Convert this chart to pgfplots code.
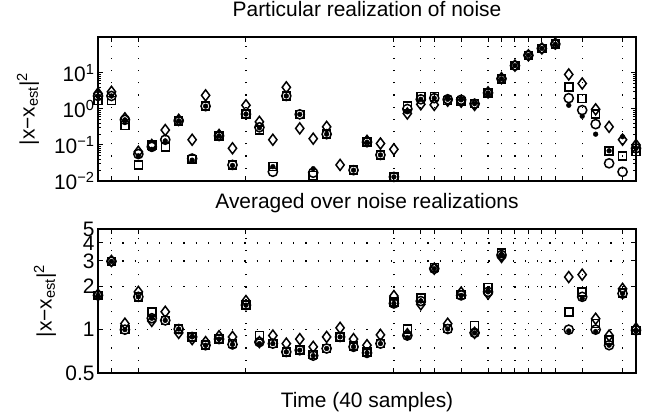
\documentclass[border=0pt]{standalone}
\usepackage{pgfplots}
\pgfplotsset{compat=1.18}
\usepackage{pgfplotstable}
\usepackage{fontspec}
\setmainfont{Liberation Sans}

% particular realization of noise (nan = off the scale)
\pgfplotstableread{
x  D     S     C     P
0  2.7   1.7   2.3   2.3
1  3.0   1.7   2.3   2.3
2  0.55  0.35  0.5   0.5
3  0.065 0.028 0.056 0.05
4  0.1   0.1   0.089 0.076
5  0.26  0.089 0.14  0.13
6  0.5   0.47  0.47  0.47
7  0.14  0.04  0.042 0.038
8  2.4   1.2   1.2   1.2
9  0.19  0.18  0.18  0.18
10 0.081 0.028 0.028 0.027
11 1.27  0.72  0.72  0.72
12 0.44  0.26  0.31  0.3
13 0.14  0.025 0.018 0.025
14 4.0   2.3   2.3   2.3
15 0.29  0.71  0.71  0.71
16 0.15  0.014 0.017 0.022
17 0.32  0.2   0.2   0.2
18 0.028 nan   nan   nan
19 nan   0.02  0.02  0.02
20 0.13  0.12  0.12  0.12
21 0.11  0.053 0.053 0.053
22 0.076 0.013 0.013 0.013
23 0.75  1.2   1.0   0.85
24 1.35  2.2   1.86  1.86
25 1.3   2.2   2.0   2.0
26 1.7   1.7   1.86  1.86
27 1.6   1.6   1.8   1.8
28 1.3   1.4   1.4   1.4
29 2.9   2.8   2.8   2.8
30 7.2   6.9   6.9   6.9
31 16    16    16    16
32 31    31    31    31
33 48    48    48    48
34 66    63    63    63
35 9.1   4.1   2.0   1.27
36 5.1   1.95  0.93  0.63
37 0.98  0.72  0.38  0.2
38 0.32  0.069 0.031 0.069
39 0.14  0.049 0.018 0.17
40 0.1   0.065 0.081 0.081
}\particular

% averaged over noise realizations
\pgfplotstableread{
x  D     S     C     P
0  1.75  1.73  1.73  1.73
1  3.0   2.98  2.98  2.98
2  1.1   1.0   1.0   1.0
3  1.83  1.69  1.69  1.69
4  1.15  1.33  1.2   1.2
5  1.33  1.16  1.16  1.16
6  0.95  1.01  1.01  1.01
7  0.86  0.89  0.89  0.89
8  0.82  0.78  0.78  0.78
9  0.9   0.86  0.86  0.86
10 0.89  0.8   0.79  0.79
11 1.58  1.48  1.48  1.48
12 0.82  0.91  0.82  0.8
13 0.91  0.8   0.8   0.8
14 0.8   0.7   0.7   0.7
15 0.86  0.72  0.72  0.72
16 0.76  0.67  0.66  0.66
17 0.89  0.74  0.74  0.74
18 1.03  0.89  0.89  0.89
19 0.86  0.77  0.76  0.76
20 0.78  0.7   0.69  0.69
21 0.92  0.8   0.8   0.8
22 1.71  1.55  1.52  1.52
23 0.93  1.01  0.91  0.88
24 1.5   1.66  1.58  1.58
25 2.65  2.7   2.65  2.65
26 1.1   1.02  1.01  1.01
27 1.81  1.75  1.73  1.73
28 0.95  1.07  0.95  0.95
29 1.78  1.97  1.83  1.83
30 3.2   3.4   3.3   3.3
31 nan   nan   nan   nan
32 nan   nan   nan   nan
33 nan   nan   nan   nan
34 nan   nan   nan   nan
35 2.32  1.33  1.0   0.98
36 2.41  1.83  1.69  1.65
37 1.19  1.1   1.0   0.97
38 0.91  0.85  0.78  0.78
39 1.92  1.8   1.78  1.78
40 1.02  0.99  0.99  0.99
}\averaged

\pgfplotsset{
  panel/.style={
    scale only axis, width=538bp, height=144bp,
    anchor=south west, clip=false,
    xmin=0, xmax=40,
    xtick={1,3,11,22,24,25,27,29,30,31,32,33,34,36,39},
    xticklabels={},
    xmajorgrids,
    major grid style={black, line width=1.2bp, dash pattern=on 1.2bp off 11bp},
    tick align=inside, major tick length=5bp, minor tick length=3bp,
    tick style={black, line width=1bp},
    axis line style={line width=1.5bp},
    tick label style={font=\fontsize{21}{25}\selectfont},
    title style={font=\fontsize{21}{25}\selectfont, at={(axis description cs:0.5,1)}, anchor=base, yshift=15bp},
    ylabel style={font=\fontsize{21}{25}\selectfont, anchor=center, rotate=0},
    xlabel style={font=\fontsize{21}{25}\selectfont, at={(axis description cs:0.5,0)}, anchor=base, yshift=-34bp},
    ylabel={|x−x\textsubscript{est}|\textsuperscript{2}},
  },
  dia/.style={only marks, mark=diamond, mark size=5.5bp, black, line width=1.5bp},
  sqr/.style={only marks, mark=square, mark size=4bp, black, line width=1.5bp},
  cir/.style={only marks, mark=o, mark size=4.6bp, black, line width=1.5bp},
  dot/.style={only marks, mark=*, mark size=2.4bp, black},
}

\begin{document}
\begin{tikzpicture}
\path[use as bounding box] (0,0) rectangle (656bp,419bp);

\begin{axis}[ymode=log, panel, at={(98bp,238bp)},
  ymin=0.01, ymax=100,
  ytick={0.01,0.1,1,10},
  yticklabels={10\textsuperscript{−2},10\textsuperscript{−1},10\textsuperscript{0},10\textsuperscript{1}},
  ylabel style={at={(axis description cs:-0.13,0.5)}},
  title={Particular realization of noise}]
\addplot[dia] table[x=x, y=D] {\particular};
\addplot[sqr] table[x=x, y=S] {\particular};
\addplot[cir] table[x=x, y=C] {\particular};
\addplot[dot] table[x=x, y=P] {\particular};
\end{axis}

\begin{axis}[ymode=log, panel, at={(98bp,46bp)},
  ymin=0.5, ymax=5,
  ytick={0.5,1,2,3,4,5},
  yticklabels={0.5,1,2,3,4,5},
  ymajorgrids,
  ylabel style={at={(axis description cs:-0.0985,0.5)}},
  title={Averaged over noise realizations},
  xlabel={Time (40 samples)}]
\addplot[dia] table[x=x, y=D] {\averaged};
\addplot[sqr] table[x=x, y=S] {\averaged};
\addplot[cir] table[x=x, y=C] {\averaged};
\addplot[dot] table[x=x, y=P] {\averaged};
\end{axis}
\end{tikzpicture}
\end{document}
